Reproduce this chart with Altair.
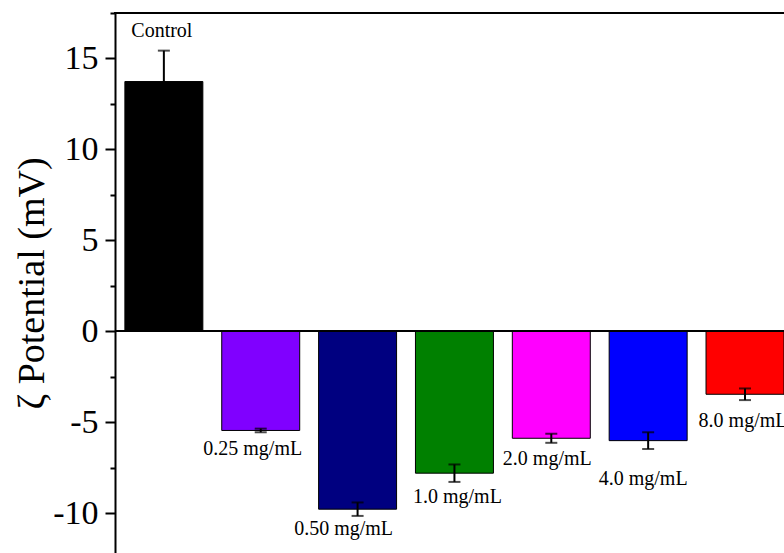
import altair as alt
import pandas as pd

categories = ["Control", "0.25 mg/mL", "0.50 mg/mL", "1.0 mg/mL", "2.0 mg/mL", "4.0 mg/mL", "8.0 mg/mL"]
zeta = [13.73, -5.46, -9.79, -7.81, -5.89, -6.02, -3.47]
errors = [1.70, 0.10, 0.37, 0.48, 0.25, 0.46, 0.32]
colors = ["#000000", "#8000FF", "#000080", "#008000", "#FF00FF", "#0000FF", "#FF0000"]
label_y = [16.2, -6.80, -11.2, -9.44, -7.35, -8.45, -5.26]
label_dx = [-2, -8, -14, 3, -4, -5, -2]
major_ticks = [-10, -5, 0, 5, 10, 15]
minor_ticks = [-7.5, -2.5, 2.5, 7.5, 12.5, 17.5]

df = pd.DataFrame({
    "cat": categories,
    "zeta": zeta,
    "err": errors,
    "label_y": label_y,
})
df["lo"] = df["zeta"] - df["err"]
df["hi"] = df["zeta"] + df["err"]

FONT = "Liberation Serif"
W, H = 669, 540
YDOM = [-12.2, 17.5]

xscale = alt.Scale(domain=categories, paddingInner=0.195, paddingOuter=0.051, align=1)
yscale = alt.Scale(domain=YDOM, nice=False, zero=False)

x_enc = alt.X("cat:N", scale=xscale, axis=None, sort=categories)

base = alt.Chart(df)

bars = base.mark_bar(stroke="black", strokeWidth=1).encode(
    x=x_enc,
    y=alt.Y("zeta:Q", scale=yscale,
            axis=alt.Axis(values=major_ticks, tickSize=10, tickWidth=2, domainWidth=2,
                          domainColor="black", tickColor="black", labelFont=FONT,
                          labelFontSize=34, labelColor="black", labelPadding=7, grid=False,
                          labelExpr="toString(datum.value)",
                          title="ζ Potential (mV)", titleFont=FONT, titleFontSize=38,
                          titleFontWeight="normal", titleColor="black", titleAngle=270,
                          titleX=-72, titleY=270, titleAlign="center",
                          titleBaseline="alphabetic", orient="left")),
    y2=alt.Y(datum=0),
    color=alt.Color("cat:N", scale=alt.Scale(domain=categories, range=colors), legend=None),
)

minor_axis = base.mark_point(opacity=0).encode(
    x=x_enc,
    y=alt.Y("zeta:Q", scale=yscale,
            axis=alt.Axis(values=minor_ticks, tickSize=5, tickWidth=2, tickColor="black",
                          labels=False, domain=False, grid=False, title=None, orient="left")),
)

zero_line = base.mark_rule(color="black", strokeWidth=1.5).encode(
    y=alt.Y(datum=0, scale=yscale),
    x=alt.value(0), x2=alt.value(W),
)

top_line = alt.Chart(pd.DataFrame({"a": [0]})).mark_rule(color="black", strokeWidth=2).encode(
    y=alt.value(0), x=alt.value(-1), x2=alt.value(W),
)

err_rule = base.mark_rule(color="black", strokeWidth=2).encode(
    x=x_enc, y=alt.Y("lo:Q", scale=yscale), y2="hi:Q",
)
cap_lo = base.mark_tick(color="black", thickness=2, size=12, orient="horizontal").encode(
    x=x_enc, y=alt.Y("lo:Q", scale=yscale),
)
cap_hi = base.mark_tick(color="black", thickness=2, size=12, orient="horizontal").encode(
    x=x_enc, y=alt.Y("hi:Q", scale=yscale),
)

labels = []
for c, dx in zip(categories, label_dx):
    labels.append(
        base.transform_filter(alt.datum.cat == c).mark_text(
            font=FONT, fontSize=20, color="black", baseline="alphabetic", align="center", dx=dx
        ).encode(x=x_enc, y=alt.Y("label_y:Q", scale=yscale), text="cat:N")
    )

chart = alt.layer(
    bars, minor_axis, zero_line, top_line, err_rule, cap_lo, cap_hi, *labels
).resolve_axis(y="independent").properties(
    width=W, height=H,
    autosize=alt.AutoSizeParams(type="none"),
    padding={"left": 115, "top": 13, "right": 0, "bottom": 0},
).configure_view(stroke=None).configure(background="white")

chart.save("out.html", embed_options={"renderer": "svg", "actions": False})
